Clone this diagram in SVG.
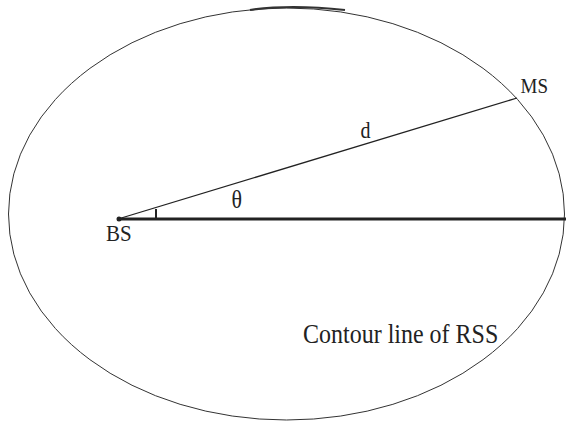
<svg xmlns="http://www.w3.org/2000/svg" width="566" height="427" viewBox="0 0 566 427">
<style>
text{font-family:"Liberation Serif","Times New Roman",serif;fill:#222}
.thin{fill:none;stroke:#333;stroke-width:1}
</style>
<rect width="566" height="427" fill="#fff"/>
<g id="contour">
<ellipse class="thin" cx="286.5" cy="214" rx="278" ry="206"/>
<path d="M250 10 Q290 4 345 10" fill="none" stroke="#333" stroke-width="2.2"/>
</g>
<g id="connectors">
<line x1="118" y1="219" x2="566" y2="219" stroke="#222" stroke-width="3"/>
<line x1="118" y1="219" x2="517" y2="98" stroke="#222" stroke-width="1.3"/>
<line x1="156" y1="209" x2="156" y2="219" stroke="#222" stroke-width="2"/>
</g>
<g id="BS">
<circle cx="119" cy="219" r="2.5" fill="#222"/>
<text transform="translate(106,241) scale(1,1.12)" font-size="21">BS</text>
</g>
<g id="MS">
<text transform="translate(520.5,93.3) scale(1,1.12)" font-size="19">MS</text>
</g>
<text transform="translate(360.5,138.3) scale(1,1.12)" font-size="20">d</text>
<text transform="translate(231.5,207.5) scale(1,1.12)" font-size="22">θ</text>
<text transform="translate(303,343.3) scale(1,1.12)" font-size="24">Contour line of RSS</text>
</svg>
